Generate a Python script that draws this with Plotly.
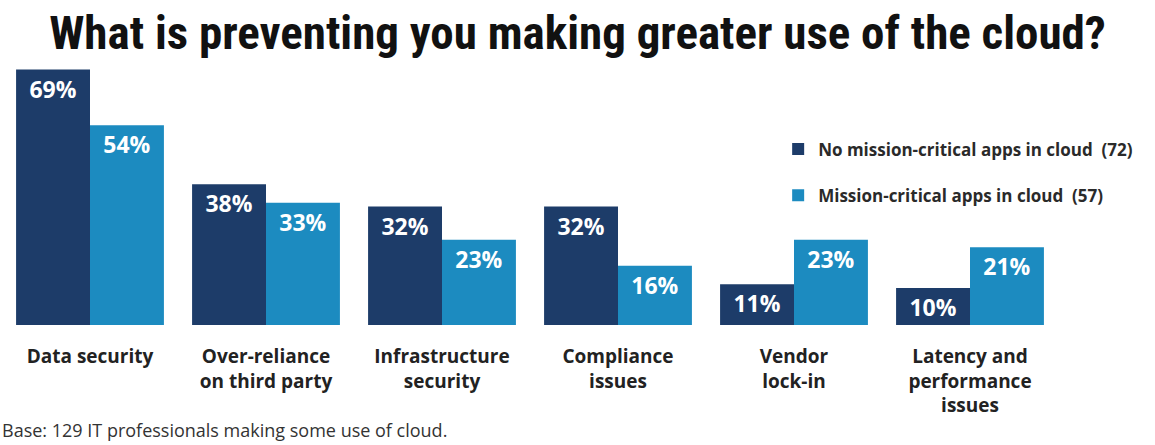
import plotly.graph_objects as go

categories = ["Data security", "Over-reliance<br>on third party", "Infrastructure<br>security",
              "Compliance<br>issues", "Vendor<br>lock-in", "Latency and<br>performance<br>issues"]
no_mc = [69, 38, 32, 32, 11, 10]
mc = [54, 33, 23, 16, 23, 21]
series_names = ["No mission-critical apps in cloud  (72)", "Mission-critical apps in cloud  (57)"]
title_text = "What is preventing you making greater use of the cloud?"
footnote = "Base: 129 IT professionals making some use of cloud."

DARK = "#1d3c69"
LIGHT = "#1c8bc0"
LABEL_FONT = "Open Sans"

fig = go.Figure()
for name, vals, col, grp in [(series_names[0], no_mc, DARK, "a"), (series_names[1], mc, LIGHT, "b")]:
    fig.add_trace(go.Bar(
        x=categories, y=vals, name=name, marker=dict(color=col, line=dict(width=0)),
        text=[f"{v}%" for v in vals], textposition="inside", insidetextanchor="end",
        textfont=dict(family=LABEL_FONT, size=23, color="white", weight="bold"),
        textangle=0, constraintext="none", legendgroup=grp, hoverinfo="skip",
    ))

fig.update_layout(
    width=1155, height=445,
    margin=dict(l=2, r=97, t=60, b=120),
    paper_bgcolor="white", plot_bgcolor="white",
    barmode="group", bargap=0.16, bargroupgap=0,
    uniformtext=dict(minsize=10, mode="show"),
    font=dict(family=LABEL_FONT, color="#222222"),
    title=dict(text=f"<b>{title_text}</b>", x=0.5, xref="container", xanchor="center",
               y=1 - 33 / 445, yref="container", yanchor="middle",
               font=dict(family="Liberation Sans Narrow, Roboto Condensed, Arial Narrow, Liberation Sans",
                         size=47, color="#111111")),
    xaxis=dict(showgrid=False, showline=False, zeroline=False, ticks="outside", ticklen=14,
               tickcolor="rgba(0,0,0,0)",
               tickfont=dict(family=LABEL_FONT, size=19, color="#222222", weight="bold")),
    yaxis=dict(range=[0, 71.6], visible=False, showgrid=False, zeroline=False),
    legend=dict(x=0.735, y=0.73, xanchor="left", yanchor="top", traceorder="grouped",
                tracegroupgap=21, bgcolor="rgba(0,0,0,0)",
                font=dict(family=LABEL_FONT, size=17, color="#2a2a2a", weight="bold")),
    showlegend=True,
    annotations=[
        dict(text=footnote,
             xref="paper", yref="paper", x=0, xshift=-2, y=0, yshift=-105, xanchor="left", yanchor="middle",
             showarrow=False,
             font=dict(family=LABEL_FONT, size=18, color="#333333")),
    ],
)

fig.write_html("out.html")
